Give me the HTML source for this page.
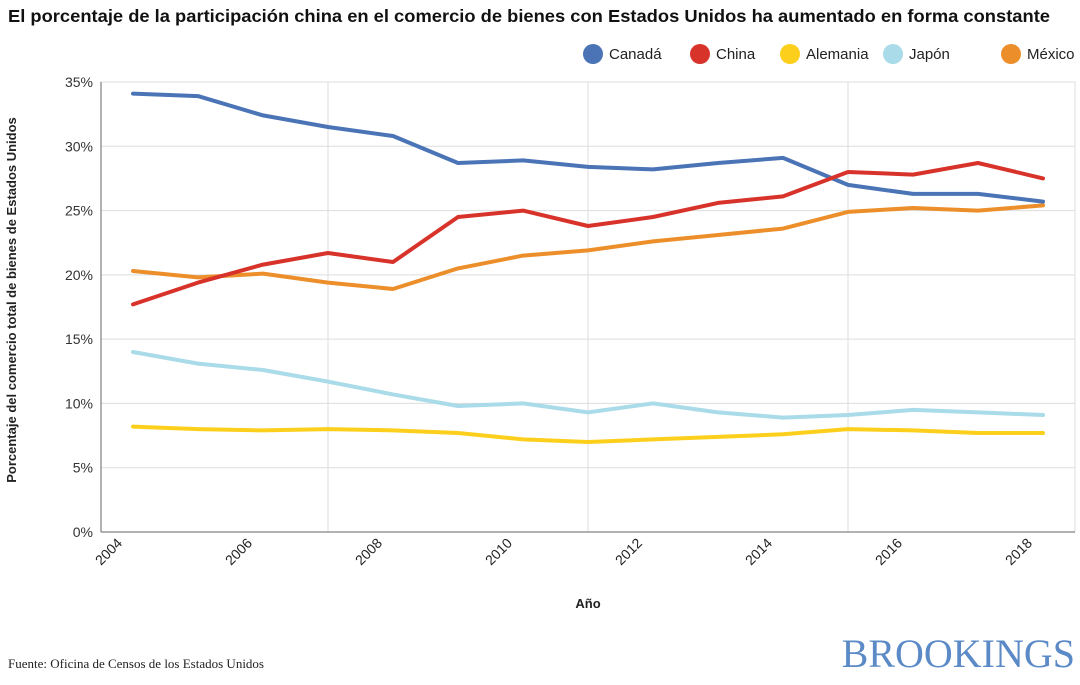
<!DOCTYPE html>
<html><head><meta charset="utf-8"><style>
body{margin:0;background:#fff;width:1080px;height:680px;overflow:hidden;font-family:"Liberation Sans",sans-serif}
</style></head><body>
<svg width="1080" height="680" font-family="Liberation Sans, sans-serif">
<text x="8" y="22" font-size="17.5" font-weight="bold" fill="#111" textLength="1042" lengthAdjust="spacingAndGlyphs">El porcentaje de la participación china en el comercio de bienes con Estados Unidos ha aumentado en forma constante</text>
<g id="legend"></g>
<g id="grid"></g>
<g id="lines"></g>
<g id="axes"></g>
<text x="588" y="608" font-size="13" font-weight="bold" text-anchor="middle" fill="#222">Año</text>
<text transform="translate(16,300) rotate(-90)" font-size="13" font-weight="bold" text-anchor="middle" fill="#222">Porcentaje del comercio total de bienes de Estados Unidos</text>
<text x="8" y="668" font-size="13" font-family="Liberation Serif, serif" fill="#222">Fuente: Oficina de Censos de los Estados Unidos</text>
<text x="1075" y="667" font-size="40" font-family="Liberation Serif, serif" text-anchor="end" fill="#5b8ac6">BROOKINGS</text>
</svg>
<script>
const years=[2004,2005,2006,2007,2008,2009,2010,2011,2012,2013,2014,2015,2016,2017,2018];
const seriesNames=["Canadá","China","Alemania","Japón","México"];
const seriesColors=["#4a74b6","#d8332b","#fccf1c","#a9dbe9","#ec8f2b"];
const canada=[34.1,33.9,32.4,31.5,30.8,28.7,28.9,28.4,28.2,28.7,29.1,27.0,26.3,26.3,25.7];
const china=[17.7,19.4,20.8,21.7,21.0,24.5,25.0,23.8,24.5,25.6,26.1,28.0,27.8,28.7,27.5];
const alemania=[8.2,8.0,7.9,8.0,7.9,7.7,7.2,7.0,7.2,7.4,7.6,8.0,7.9,7.7,7.7];
const japon=[14.0,13.1,12.6,11.7,10.7,9.8,10.0,9.3,10.0,9.3,8.9,9.1,9.5,9.3,9.1];
const mexico=[20.3,19.8,20.1,19.4,18.9,20.5,21.5,21.9,22.6,23.1,23.6,24.9,25.2,25.0,25.4];
const yTicks=[0,5,10,15,20,25,30,35];
const xTickYears=[2004,2006,2008,2010,2012,2014,2016,2018];
const gridYears=[2007,2011,2015];
const NS="http://www.w3.org/2000/svg";
const X0=101,X1=1075,Y0=532,Y1=82;
const xs=y=>133+(y-2004)*(1043-133)/14;
const ys=v=>Y0-(v/35)*(Y0-Y1);
function mk(t,a,p){const e=document.createElementNS(NS,t);for(const k in a)e.setAttribute(k,a[k]);p.appendChild(e);return e;}
const grid=document.getElementById('grid'),axes=document.getElementById('axes'),lines=document.getElementById('lines'),legend=document.getElementById('legend');
mk('rect',{x:X0,y:Y1,width:X1-X0,height:Y0-Y1,fill:'none',stroke:'#ddd'},grid);
yTicks.forEach(t=>{
 const l=mk('line',{x1:X0,x2:X1,y1:ys(t),y2:ys(t),stroke:'#ddd'},grid);
 
 
 const tx=mk('text',{x:X0-8,y:ys(t)+5,'font-size':14,'text-anchor':'end',fill:'#333'},axes);
 tx.textContent=t+'%';
 
 
});
gridYears.forEach(y=>{
 const l=mk('line',{x1:xs(y),x2:xs(y),y1:Y1,y2:Y0,stroke:'#ddd'},grid);
 
 
});
mk('line',{x1:X0,x2:X1,y1:Y0,y2:Y0,stroke:'#666'},axes);
mk('line',{x1:X0,x2:X0,y1:Y1,y2:Y0,stroke:'#666'},axes);
xTickYears.forEach(y=>{
 const tx=mk('text',{transform:`translate(${xs(y)-10},${Y0+12}) rotate(-45)`,'font-size':14,'text-anchor':'end',fill:'#222'},axes);
 tx.textContent=y;
 
 
});
const data=[canada,china,alemania,japon,mexico];
const order=[3,2,4,0,1];
order.forEach(i=>{
 const d=data[i].map((v,j)=>(j?'L':'M')+xs(years[j]).toFixed(1)+','+ys(v).toFixed(1)).join('');
 const p=mk('path',{d:d,fill:'none',stroke:seriesColors[i],'stroke-width':4,'stroke-linejoin':'round','stroke-linecap':'round'},lines);
 
 
});
const lx=[593,700,790,893,1011];
seriesNames.forEach((n,i)=>{
 const g=mk('g',{},legend);
 
 
 mk('circle',{cx:lx[i],cy:54,r:10,fill:seriesColors[i]},g);
 const t=mk('text',{x:lx[i]+16,y:59,'font-size':15,fill:'#222'},g);
 t.textContent=n;
});
</script>
</body></html>
